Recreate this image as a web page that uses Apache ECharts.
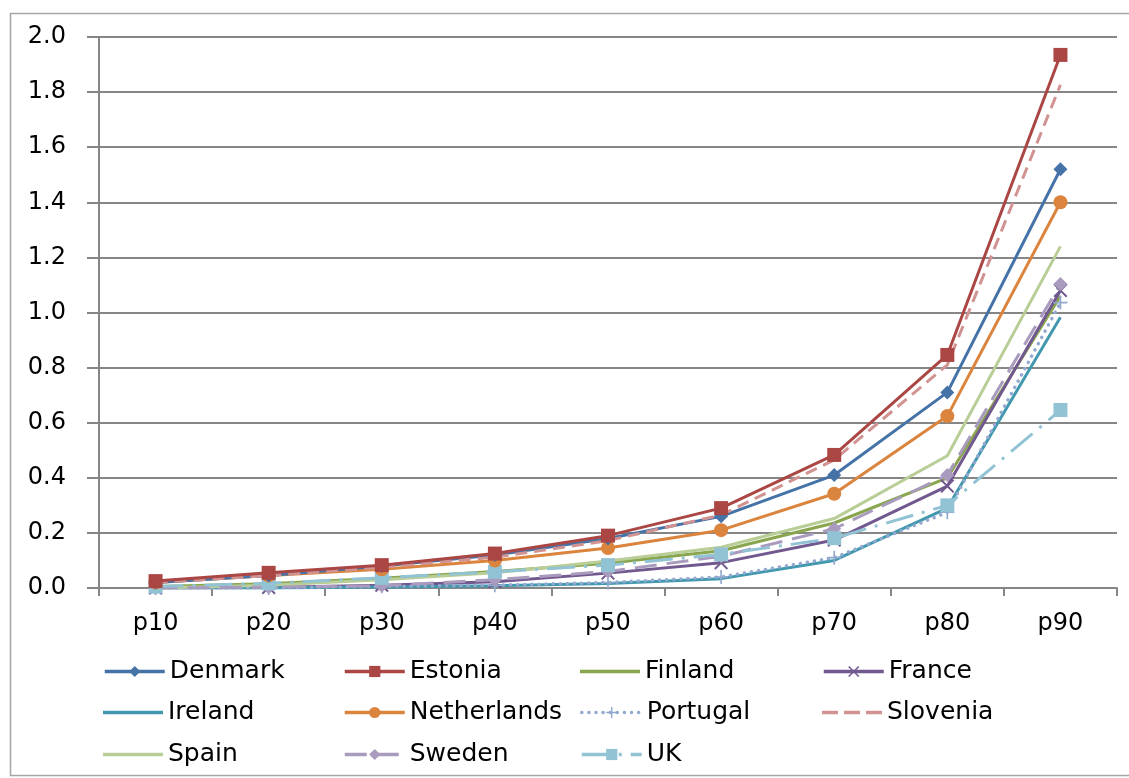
<!DOCTYPE html>
<html>
<head>
<meta charset="utf-8">
<script src="https://cdn.jsdelivr.net/npm/echarts@6/dist/echarts.min.js"></script>
<style>
  html, body { margin: 0; padding: 0; background: #fff; }
  #chart { width: 1129px; height: 778px; }
</style>
</head>
<body>
<div id="chart"></div>
<script>
// Percentile categories along the x axis
const categories = ['p10', 'p20', 'p30', 'p40', 'p50', 'p60', 'p70', 'p80', 'p90'];

// Values per country
const denmark     = [0.02, 0.045, 0.08, 0.12, 0.18, 0.26, 0.41, 0.71, 1.52];
const estonia     = [0.025, 0.055, 0.083, 0.125, 0.19, 0.29, 0.483, 0.846, 1.935];
const finland     = [0.005, 0.015, 0.035, 0.06, 0.09, 0.135, 0.236, 0.40, 1.06];
const france      = [0.0, 0.002, 0.01, 0.023, 0.054, 0.092, 0.174, 0.37, 1.08];
const ireland     = [0.0, 0.0, 0.004, 0.008, 0.016, 0.034, 0.10, 0.29, 0.983];
const netherlands = [0.02, 0.045, 0.068, 0.10, 0.145, 0.21, 0.342, 0.624, 1.40];
const portugal    = [0.0, 0.0, 0.006, 0.01, 0.02, 0.04, 0.11, 0.275, 1.036];
const slovenia    = [0.02, 0.045, 0.075, 0.112, 0.172, 0.265, 0.465, 0.81, 1.826];
const spain       = [0.0, 0.01, 0.03, 0.055, 0.098, 0.148, 0.252, 0.48, 1.24];
const sweden      = [0.0, 0.003, 0.008, 0.03, 0.06, 0.115, 0.215, 0.41, 1.103];
const uk          = [0.005, 0.017, 0.037, 0.059, 0.083, 0.122, 0.181, 0.30, 0.646];

// Y axis range
const yMin = 0, yMax = 2.0, yStep = 0.2;

const FONT = 'DejaVu Sans';
const GRID_GREY = '#868686';

// Marker shapes
const crossX = 'path://M0,1L1,0L5,4L9,0L10,1L6,5L10,9L9,10L5,6L1,10L0,9L4,5Z';
const plus = 'path://M4.4,0H5.6V4.4H10V5.6H5.6V10H4.4V5.6H0V4.4H4.4Z';
// Legend keys for the series drawn without markers
const solidKey = 'path://M0,0H60V3.5H0Z';
const dashKey = 'path://M0,0H16V3.5H0Z M22,0H38V3.5H22Z M44,0H60V3.5H44Z';

function line(name, data, color, opts) {
  opts = opts || {};
  return {
    name: name,
    type: 'line',
    data: data,
    symbol: opts.symbol || 'none',
    symbolSize: opts.size || 13,
    showSymbol: !!opts.symbol,
    lineStyle: { color: color, width: opts.width || 3, type: opts.dash || 'solid', cap: opts.cap || 'butt' },
    itemStyle: { color: color },
    z: opts.z || 2,
    animation: false
  };
}

const series = [
  line('Denmark', denmark, '#4572A7', { symbol: 'diamond', size: 14, z: 5 }),
  line('Estonia', estonia, '#AA4643', { symbol: 'rect', size: 14, z: 6 }),
  line('Finland', finland, '#89A54E', {}),
  line('France', france, '#71588F', { symbol: crossX, size: 14 }),
  line('Ireland', ireland, '#4198AF', {}),
  line('Netherlands', netherlands, '#DB843D', { symbol: 'circle', size: 14, z: 4 }),
  line('Portugal', portugal, '#93A9CF', { symbol: plus, size: 14, dash: [0.1, 7], cap: 'round', width: 3.5 }),
  line('Slovenia', slovenia, '#D19392', { dash: [12, 7], z: 5 }),
  line('Spain', spain, '#B9CD96', {}),
  line('Sweden', sweden, '#A99BBD', { symbol: 'diamond', size: 14, dash: [22, 10] }),
  line('UK', uk, '#92C3D4', { symbol: 'rect', size: 14, dash: [28, 9, 3, 9] })
];

const legendIcons = { Finland: solidKey, Ireland: solidKey, Spain: solidKey, Slovenia: dashKey };

// Legend laid out as a 4-column grid
const legendCols = [103, 343, 580, 822];
const legendRows = [659, 700, 742];
const legends = series.map((s, i) => {
  const item = { name: s.name };
  if (legendIcons[s.name]) item.icon = legendIcons[s.name];
  return {
    data: [item],
    left: legendCols[i % 4],
    top: legendRows[Math.floor(i / 4)],
    padding: 0,
    itemWidth: 60,
    itemHeight: 14,
    itemGap: 0,
    lineStyle: { width: 3.5 },
    textStyle: { fontFamily: FONT, fontSize: 25, color: '#000' },
    selectedMode: false
  };
});

const chart = echarts.init(document.getElementById('chart'), null, { renderer: 'canvas' });
chart.setOption({
  backgroundColor: '#fff',
  animation: false,
  grid: { left: 99, right: 12, top: 37, bottom: 190, containLabel: false },
  legend: legends,
  xAxis: {
    type: 'category',
    data: categories,
    boundaryGap: true,
    axisLine: { lineStyle: { color: GRID_GREY, width: 2 } },
    axisTick: { show: true, length: 8, lineStyle: { color: GRID_GREY, width: 2 } },
    axisLabel: { fontFamily: FONT, fontSize: 24, color: '#000', margin: 24 }
  },
  yAxis: {
    type: 'value',
    min: yMin, max: yMax, interval: yStep,
    axisLine: { show: true, lineStyle: { color: GRID_GREY, width: 2 } },
    axisTick: { show: true, length: 12, lineStyle: { color: GRID_GREY, width: 2 } },
    splitLine: { lineStyle: { color: GRID_GREY, width: 2 } },
    axisLabel: { fontFamily: FONT, fontSize: 24, color: '#000', margin: 33,
                 formatter: v => v.toFixed(1) }
  },
  graphic: [{
    type: 'rect',
    shape: { x: 10.5, y: 13.5, width: 1130, height: 762 },
    style: { fill: 'none', stroke: '#a6a6a6', lineWidth: 1.5 },
    silent: true
  }],
  series: series
});
</script>
</body>
</html>
